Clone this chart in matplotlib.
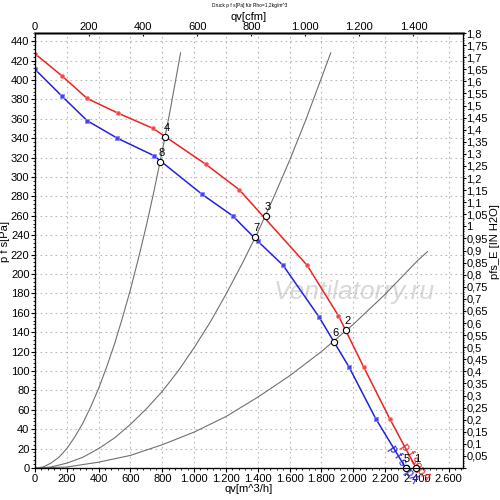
import matplotlib
matplotlib.use("Agg")
import matplotlib.pyplot as plt
from matplotlib.ticker import MultipleLocator, AutoMinorLocator, FuncFormatter

plt.rcParams['font.family'] = ['Liberation Sans', 'DejaVu Sans']

# fan curves (q in m^3/h, p in Pa)
red_q = [0, 171, 327, 519, 743, 1074, 1283, 1710, 1907, 2066, 2229, 2395]
red_p = [427, 404, 381, 366, 350, 313, 287, 209, 157, 104, 51, 0]
blue_q = [0, 171, 328, 517, 747, 1051, 1242, 1399, 1559, 1784, 1974, 2141, 2330]
blue_p = [411, 383, 358, 340, 322, 282, 260, 234, 209, 156, 104, 51, 0]

# system curves
sys1_q = [0, 50, 100, 150, 200, 250, 300, 350, 400, 450, 500, 550, 600, 650,
          700, 750, 800, 850, 915]
sys1_p = [0, 1, 5, 11, 20, 32, 46, 63, 82, 104, 128, 155, 184, 216,
          250, 287, 327, 369, 428]
sys2_q = [0, 100, 200, 300, 400, 500, 600, 700, 800, 900, 1000, 1100, 1200,
          1300, 1400, 1500, 1600, 1700, 1800, 1859]
sys2_p = [0, 1, 5, 11, 20, 31, 45, 61, 79, 100, 124, 150, 179,
          210, 243, 279, 317, 358, 402, 428]
sys3_q = [0, 200, 400, 600, 800, 1000, 1200, 1400, 1600, 1800, 2000, 2200,
          2400, 2466]
sys3_p = [0, 1, 6, 13, 24, 37, 53, 73, 95, 120, 148, 179, 213, 223]

# operating points
op_names = ['1', '2', '3', '4', '5', '6', '7', '8']
op_q = [2395, 1957, 1451, 817, 2330, 1878, 1382, 785]
op_p = [0, 142, 260, 341, 0, 130, 238, 315]

Q_MAX = 2690
P_MAX = 448.4
PA_PER_INH2O = 249.09
M3H_PER_CFM = 1.699


def thousands(v, pos):
    return f"{int(round(v)):,}".replace(',', '.')


def comma(v, pos):
    if v < 0.001:
        return ''
    s = f"{v:.2f}".rstrip('0').rstrip('.')
    return s.replace('.', ',')


fig = plt.figure(figsize=(5, 5), dpi=100)
ax = fig.add_axes([0.07, 0.064, 0.856, 0.870])

for q, p in [(sys1_q, sys1_p), (sys2_q, sys2_p), (sys3_q, sys3_p)]:
    ax.plot(q, p, color='#707070', lw=0.8)

ax.plot(red_q, red_p, color='#ee2222', lw=1.1)
ax.plot(red_q[:-1], red_p[:-1], 'o', color='#f04444', ms=3.0, mec='#ff8888', mew=0.6)
ax.plot(blue_q, blue_p, color='#2222dd', lw=1.1)
ax.plot(blue_q[:-1], blue_p[:-1], 's', color='#4444ee', ms=3.0, mec='#8888ff', mew=0.6)

ax.plot(op_q, op_p, 'o', mfc='white', mec='black', ms=4.5, mew=0.8, clip_on=False, zorder=5)
for name, q, p in zip(op_names, op_q, op_p):
    ax.annotate(name, (q, p), xytext=(1, 3), textcoords='offset points',
                ha='center', va='bottom', fontsize=8, zorder=6)

ax.text(2342, 28, 'p f sepA', color='#ee2222', fontsize=8.5, rotation=-56,
        rotation_mode='anchor', ha='left', va='top')
ax.text(2267, 25, 'p f sepA', color='#2222dd', fontsize=8.5, rotation=-56,
        rotation_mode='anchor', ha='left', va='top')

ax.text(0.745, 0.405, 'Ventilatorry.ru', transform=ax.transAxes, fontsize=19,
        style='italic', color='#d8d8d8', ha='center', va='center', zorder=0)

ax.set_xlim(0, Q_MAX)
ax.set_ylim(0, P_MAX)
ax.xaxis.set_major_locator(MultipleLocator(200))
ax.xaxis.set_minor_locator(AutoMinorLocator(5))
ax.xaxis.set_major_formatter(FuncFormatter(thousands))
ax.yaxis.set_major_locator(MultipleLocator(20))
ax.yaxis.set_minor_locator(AutoMinorLocator(5))
ax.grid(True, which='major', color='#b8b8b8', linestyle=(0, (1.5, 3)), lw=0.8)
ax.tick_params(labelsize=8, length=3, width=0.8, pad=1)
ax.tick_params(which='minor', length=1.5, width=0.6)
ax.set_xlabel('qv[m^3/h]', fontsize=8, labelpad=0)
ax.set_ylabel('p f s[Pa]', fontsize=8)
ax.yaxis.set_label_coords(-0.058, 0.52)

for s in ax.spines.values():
    s.set_color('black')
ax.spines['top'].set_color('#808080')
ax.spines['top'].set_linewidth(2)

ax_top = ax.twiny()
ax_top.set_xlim(0, Q_MAX / M3H_PER_CFM)
ax_top.xaxis.set_major_locator(MultipleLocator(200))
ax_top.xaxis.set_minor_locator(AutoMinorLocator(5))
ax_top.xaxis.set_major_formatter(FuncFormatter(thousands))
ax_top.tick_params(labelsize=8, length=2, width=0.8, pad=1, direction='in')
ax_top.tick_params(which='minor', length=1, width=0.6)
ax_top.set_xlabel('qv[cfm]', fontsize=8, labelpad=1)
ax_top.spines['top'].set_color('#808080')
ax_top.spines['top'].set_linewidth(2)

ax_r = ax.twinx()
ax_r.set_ylim(0, P_MAX / PA_PER_INH2O)
ax_r.yaxis.set_major_locator(MultipleLocator(0.05))
ax_r.yaxis.set_minor_locator(AutoMinorLocator(5))
ax_r.yaxis.set_major_formatter(FuncFormatter(comma))
ax_r.tick_params(labelsize=8, length=2, width=0.8, pad=0.5)
ax_r.tick_params(which='minor', length=1, width=0.6)
ax_r.set_ylabel('pfs_E [IN H2O]', fontsize=8, rotation=90)
ax_r.yaxis.set_label_coords(1.062, 0.52)

fig.text(0.5, 0.988, 'Druck p f s[Pa] für Rho=1,2kg/m^3', fontsize=3.5,
         ha='center', va='center')

fig.savefig('out.png', dpi=100)
